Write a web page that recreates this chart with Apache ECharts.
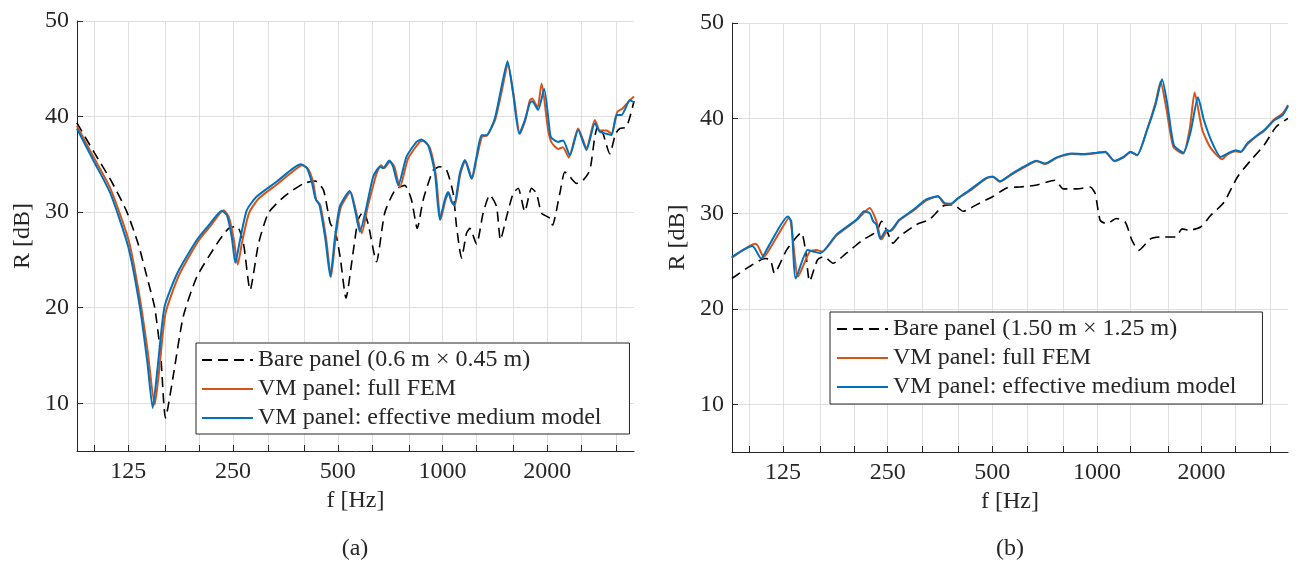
<!DOCTYPE html>
<html>
<head>
<meta charset="utf-8">
<script src="https://cdn.jsdelivr.net/npm/echarts@6/dist/echarts.min.js"></script>
<style>
  html, body { margin: 0; padding: 0; background: #fff; }
  #chart { width: 1296px; height: 564px; }
</style>
</head>
<body>
<div id="chart"></div>
<script>
// third-octave grid, labelled octaves, dB ticks
var bandTicks = [100, 125, 160, 200, 250, 315, 400, 500, 630, 800, 1000, 1250, 1600, 2000, 2500, 3150];
var labelTicks = [125, 250, 500, 1000, 2000];
var rTicks = [10, 20, 30, 40, 50];

var nameBareA = 'Bare panel (0.6 m \u00d7 0.45 m)';
var nameBareB = 'Bare panel (1.50 m \u00d7 1.25 m)';
var nameFull = 'VM panel: full FEM';
var nameEff = 'VM panel: effective medium model';

// (a) bare panel
var freqBareA = [89, 100, 112, 124, 134, 142, 149, 155, 160, 169, 180, 197, 225, 243, 257, 268, 280, 296, 316, 350, 399, 431, 455, 476, 491, 508, 528, 553, 572, 592, 611, 646, 682, 730, 779, 814, 846, 880, 940, 982, 1027, 1073, 1097, 1134, 1172, 1198, 1252, 1308, 1367, 1429, 1467, 1527, 1595, 1649, 1723, 1801, 1862, 1925, 2036, 2070, 2172, 2245, 2321, 2426, 2535, 2650, 2738, 2799, 2892, 3023, 3141, 3231, 3377, 3548];
var bareA = [39.35, 36.2, 33.2, 30.0, 26.5, 23.0, 20.0, 15.0, 8.45, 13.2, 19.1, 23.25, 26.7, 28.3, 28.5, 26.7, 21.85, 26.7, 29.9, 31.6, 33.0, 33.25, 32.3, 28.8, 28.1, 25.3, 21.0, 25.7, 29.2, 30.05, 28.8, 24.8, 29.9, 32.3, 32.8, 31.3, 28.3, 31.3, 34.4, 34.75, 34.4, 31.95, 28.5, 25.2, 27.8, 28.3, 26.65, 29.9, 31.8, 30.6, 27.1, 29.5, 31.95, 32.5, 30.05, 32.5, 31.95, 29.9, 29.35, 28.65, 31.95, 34.2, 33.7, 33.0, 33.35, 34.4, 37.9, 39.1, 38.2, 36.1, 38.2, 38.75, 38.9, 41.6];

// (a) VM panel, full FEM
var freqFullA = [89, 100, 111, 125.5, 135, 142, 149, 153, 160, 175, 199, 217, 235, 243, 251, 258, 266, 278, 296, 337, 376, 395, 411, 425, 434, 445, 463, 478, 493, 510, 544, 563, 586, 610, 646, 666, 680, 707, 727, 754, 796, 860, 880, 920, 958, 987, 1020, 1042, 1065, 1084, 1125, 1163, 1216, 1255, 1298, 1342, 1417, 1482, 1540, 1600, 1668, 1728, 1781, 1811, 1874, 1925, 2012, 2056, 2148, 2218, 2305, 2452, 2592, 2738, 2830, 2958, 3058, 3178, 3290, 3451, 3548];
var fullA = [39.05, 35.6, 32.5, 27.0, 21.0, 15.6, 9.85, 13.0, 19.4, 23.4, 27.0, 28.7, 30.2, 29.5, 27.3, 24.5, 27.0, 29.9, 31.4, 33.0, 34.4, 34.9, 34.5, 33.1, 31.2, 30.8, 27.2, 23.2, 27.4, 30.5, 32.1, 30.2, 27.8, 30.6, 34.0, 34.9, 34.6, 35.3, 34.75, 32.6, 35.6, 37.35, 37.45, 36.7, 33.7, 29.2, 31.3, 32.0, 31.0, 30.7, 34.0, 35.4, 33.5, 35.7, 37.9, 38.0, 39.7, 42.8, 45.5, 42.3, 38.2, 39.6, 41.7, 41.9, 40.9, 43.45, 38.5, 37.3, 36.6, 36.8, 35.7, 38.75, 36.7, 39.65, 38.55, 38.55, 38.2, 40.5, 40.85, 41.7, 42.1];

// (a) VM panel, effective medium model
var freqEffA = [89, 100, 111, 125, 135, 142, 147, 152, 159, 173, 197, 215, 232, 240, 248, 254, 262, 274, 292, 334, 373, 392, 408, 422, 431, 443, 461, 476, 491, 507, 541, 560, 579, 605, 632, 661, 675, 703, 721, 746, 788, 842, 870, 909, 951, 982, 1015, 1038, 1061, 1080, 1121, 1159, 1211, 1252, 1294, 1338, 1413, 1477, 1537, 1595, 1660, 1723, 1781, 1809, 1882, 1958, 2036, 2056, 2148, 2220, 2321, 2452, 2592, 2738, 2830, 2958, 3058, 3161, 3267, 3451, 3548];
var effA = [38.75, 35.2, 32.0, 26.4, 20.1, 14.2, 9.5, 13.85, 20.1, 23.6, 27.1, 28.8, 30.15, 29.7, 27.4, 24.7, 27.1, 30.2, 31.6, 33.2, 34.6, 35.0, 34.6, 33.0, 31.45, 30.75, 27.1, 23.25, 27.4, 30.6, 32.2, 30.3, 27.95, 30.6, 33.7, 34.75, 34.6, 35.4, 34.75, 32.8, 35.8, 37.35, 37.6, 37.0, 34.05, 29.2, 31.3, 32.1, 31.1, 30.75, 34.05, 35.45, 33.5, 35.8, 38.05, 38.05, 39.8, 43.1, 45.8, 42.4, 38.2, 39.6, 41.4, 41.6, 40.7, 42.9, 38.2, 37.75, 37.35, 37.5, 35.95, 38.6, 36.5, 39.3, 38.4, 38.2, 38.05, 40.15, 40.15, 41.7, 41.5];

// (b) bare panel
var freqBareB = [89, 100, 111, 115, 118, 128, 141, 145, 149, 157, 164, 174, 190, 212, 232, 240, 248, 259, 270, 302, 330, 361, 386, 412, 451, 502, 550, 600, 671, 758, 801, 875, 957, 989, 1022, 1069, 1137, 1207, 1262, 1319, 1426, 1524, 1684, 1760, 1840, 1988, 2124, 2322, 2538, 2773, 3030, 3276, 3548];
var bareB = [23.2, 24.45, 25.3, 25.15, 23.75, 26.2, 28.0, 26.2, 22.9, 25.15, 25.5, 24.8, 25.85, 27.25, 28.1, 29.2, 28.3, 26.9, 27.6, 28.85, 29.4, 30.8, 30.95, 30.25, 30.95, 31.8, 32.7, 32.8, 33.0, 33.5, 32.6, 32.6, 32.8, 32.1, 29.3, 28.95, 29.5, 29.1, 27.2, 26.15, 27.35, 27.55, 27.55, 28.4, 28.25, 28.6, 29.8, 31.2, 33.85, 35.6, 37.2, 39.1, 40.0];

// (b) VM panel, full FEM
var freqFullB = [89, 104, 106, 110, 117, 130, 138, 149, 156, 162, 178, 203, 222, 232, 240, 250, 256, 270, 296, 323, 349, 365, 380, 399, 431, 481, 502, 526, 562, 614, 671, 709, 767, 847, 915, 1000, 1057, 1122, 1194, 1249, 1305, 1394, 1474, 1525, 1585, 1660, 1772, 1850, 1911, 2010, 2124, 2295, 2374, 2509, 2593, 2713, 2899, 3030, 3240, 3425, 3548];
var fullB = [25.35, 26.85, 26.55, 25.45, 26.9, 29.55, 23.4, 26.0, 26.2, 26.0, 27.7, 29.3, 30.6, 29.2, 27.3, 28.2, 28.2, 29.3, 30.3, 31.4, 31.85, 31.0, 31.0, 31.6, 32.4, 33.7, 33.85, 33.35, 34.0, 34.8, 35.5, 35.2, 35.85, 36.25, 36.2, 36.35, 36.45, 35.5, 35.9, 36.45, 36.1, 38.8, 41.6, 43.85, 41.0, 37.0, 36.3, 38.9, 42.7, 38.8, 36.9, 35.7, 36.2, 36.55, 36.45, 37.3, 38.2, 38.7, 39.9, 40.5, 41.4];

// (b) VM panel, effective medium model
var freqEffB = [89, 102, 108, 114, 129, 132, 136, 147, 154, 160, 178, 203, 214, 222, 227, 232, 238, 248, 253, 270, 296, 323, 349, 365, 380, 399, 431, 481, 502, 526, 562, 614, 671, 709, 767, 847, 915, 1000, 1057, 1122, 1194, 1249, 1305, 1394, 1474, 1540, 1593, 1665, 1772, 1861, 1954, 2033, 2149, 2271, 2374, 2509, 2593, 2713, 2899, 3030, 3240, 3425, 3548];
var effB = [25.45, 26.6, 25.3, 26.7, 29.7, 29.2, 23.2, 26.2, 26.0, 25.85, 27.8, 29.35, 30.25, 30.05, 29.2, 28.85, 27.35, 28.3, 28.15, 29.35, 30.4, 31.5, 31.8, 31.1, 31.05, 31.65, 32.5, 33.75, 33.9, 33.4, 34.05, 34.9, 35.55, 35.25, 35.9, 36.3, 36.25, 36.4, 36.5, 35.55, 35.95, 36.5, 36.15, 38.75, 41.4, 44.1, 41.6, 37.2, 36.4, 38.6, 42.2, 39.8, 37.4, 35.95, 36.3, 36.65, 36.5, 37.4, 38.25, 38.75, 39.8, 40.35, 41.3];

var font = '"Liberation Serif", "Times New Roman", serif';
var ink = '#262626';
var orange = '#D95319';
var blue = '#0072BD';

function pairs(f, r) {
  return f.map(function (v, i) { return [v, r[i]]; });
}

function xAxisFor(gi) {
  return {
    type: 'log', logBase: 2, gridIndex: gi, min: 89.1, max: 3548,
    name: 'f [Hz]', nameLocation: 'middle', nameGap: 38,
    nameTextStyle: { fontFamily: font, fontSize: 24, color: ink },
    axisLine: { lineStyle: { color: ink, width: 1 } },
    axisTick: { inside: true, length: 6, customValues: bandTicks, lineStyle: { color: ink } },
    axisLabel: {
      customValues: labelTicks, margin: 9, fontFamily: font, fontSize: 24, color: ink,
      formatter: function (v) { return String(Math.round(v)); }
    },
    splitLine: { show: true, lineStyle: { color: '#dfdfdf', width: 1 } }
  };
}

function yAxisFor(gi) {
  return {
    type: 'value', gridIndex: gi, min: 5, max: 50,
    name: 'R [dB]', nameLocation: 'middle', nameGap: 42,
    nameTextStyle: { fontFamily: font, fontSize: 24, color: ink },
    axisLine: { show: true, lineStyle: { color: ink, width: 1 } },
    axisTick: { show: true, inside: true, length: 6, customValues: rTicks, lineStyle: { color: ink } },
    axisLabel: { customValues: rTicks, margin: 8, fontFamily: font, fontSize: 24, color: ink },
    splitLine: { show: true, lineStyle: { color: '#dfdfdf', width: 1 } }
  };
}

function line(name, gi, f, r, color, dashed) {
  return {
    name: name, type: 'line', xAxisIndex: gi, yAxisIndex: gi,
    data: pairs(f, r), symbol: 'none', smooth: 0.2, animation: false,
    lineStyle: { color: color, width: dashed ? 1.6 : 2, type: dashed ? [10, 6] : 'solid' },
    itemStyle: { color: color }
  };
}

// legend entries: line sample only, no marker
function legendFor(names, left, top, pad) {
  return {
    data: names, orient: 'vertical', left: left, top: top,
    itemWidth: 51, itemHeight: 14, itemGap: 3, padding: pad,
    backgroundColor: '#fff', borderColor: ink, borderWidth: 1, borderRadius: 0,
    itemStyle: { opacity: 0 },
    textStyle: { fontFamily: font, fontSize: 24, color: ink, lineHeight: 26 },
    selectedMode: false
  };
}

var chart = echarts.init(document.getElementById('chart'), null, { renderer: 'canvas' });
chart.setOption({
  backgroundColor: '#fff',
  animation: false,
  grid: [
    { left: 77, top: 21, width: 557, height: 430 },
    { left: 732, top: 23, width: 556, height: 429 }
  ],
  xAxis: [xAxisFor(0), xAxisFor(1)],
  yAxis: [yAxisFor(0), yAxisFor(1)],
  legend: [
    legendFor([nameBareA, nameFull, nameEff], 196, 343, [4, 28, 3, 5]),
    legendFor([nameBareB, nameFull, nameEff], 830, 312, [4, 26, 4, 6])
  ],
  series: [
    line(nameBareA, 0, freqBareA, bareA, '#000', true),
    line(nameFull, 0, freqFullA, fullA, orange, false),
    line(nameEff, 0, freqEffA, effA, blue, false),
    line(nameBareB, 1, freqBareB, bareB, '#000', true),
    line(nameFull, 1, freqFullB, fullB, orange, false),
    line(nameEff, 1, freqEffB, effB, blue, false)
  ],
  graphic: [
    { type: 'text', x: 355, y: 549, style: { text: '(a)', font: '24px ' + font, fill: ink, textAlign: 'center', textVerticalAlign: 'middle' } },
    { type: 'text', x: 1010, y: 549, style: { text: '(b)', font: '24px ' + font, fill: ink, textAlign: 'center', textVerticalAlign: 'middle' } }
  ]
});
</script>
</body>
</html>
